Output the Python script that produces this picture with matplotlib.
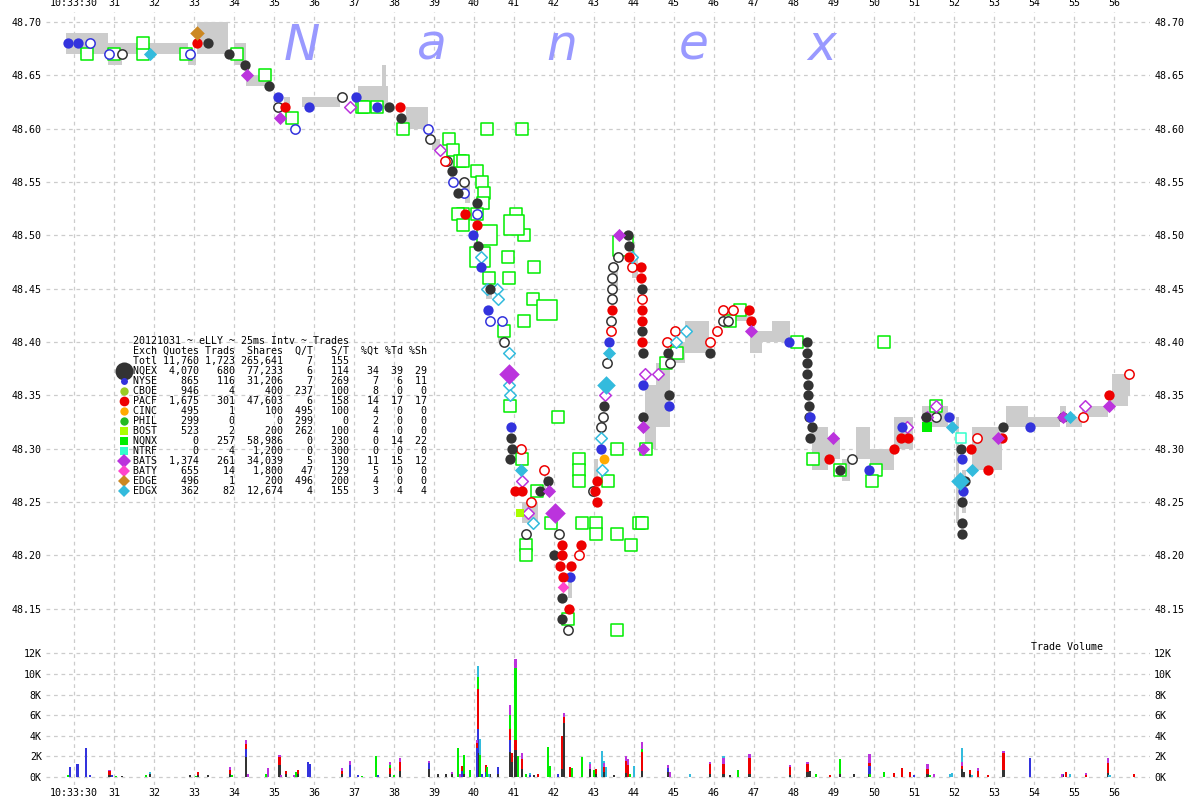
from collections import defaultdict

import matplotlib
matplotlib.use('Agg')
import matplotlib.pyplot as plt

MONO = 'DejaVu Sans Mono'
plt.rcParams['font.family'] = MONO
plt.rcParams['font.size'] = 7.2

# x axis: seconds after 10:33:30
sec_ticks = list(range(0, 27))
sec_labels = ['10:33:30'] + [str(30 + s) for s in range(1, 27)]
price_ticks = [48.15, 48.20, 48.25, 48.30, 48.35, 48.40, 48.45, 48.50,
               48.55, 48.60, 48.65, 48.70]
vol_ticks = [0, 2000, 4000, 6000, 8000, 10000, 12000]

# NBBO band (start, end, bid, ask)
quote_bands = [
    (-0.2, 0.85, 48.67, 48.69), (0.85, 1.2, 48.66, 48.68), (1.2, 2.85, 48.67, 48.68),
    (2.85, 3.05, 48.66, 48.67), (3.08, 3.85, 48.67, 48.70), (4.0, 4.3, 48.66, 48.68),
    (4.3, 4.9, 48.64, 48.65), (5.25, 5.4, 48.62, 48.63), (5.7, 6.65, 48.62, 48.63),
    (7.1, 7.85, 48.62, 48.64), (7.7, 7.8, 48.63, 48.66), (8.3, 8.85, 48.60, 48.62),
    (8.95, 9.15, 48.58, 48.59), (9.4, 9.5, 48.55, 48.57), (9.78, 9.9, 48.53, 48.55),
    (10.3, 10.45, 48.44, 48.46), (10.6, 10.7, 48.40, 48.42), (11.2, 11.6, 48.23, 48.25),
    (11.75, 11.8, 48.26, 48.28), (12.35, 12.45, 48.16, 48.18), (13.0, 13.1, 48.27, 48.29),
    (13.5, 13.6, 48.45, 48.47), (13.95, 14.1, 48.46, 48.48), (14.28, 14.55, 48.30, 48.36),
    (14.55, 14.9, 48.32, 48.38), (14.9, 15.28, 48.38, 48.40), (15.28, 15.88, 48.39, 48.42),
    (16.23, 16.9, 48.42, 48.43), (16.9, 17.2, 48.39, 48.41), (17.2, 17.45, 48.40, 48.41),
    (17.45, 17.9, 48.40, 48.42), (18.45, 18.85, 48.28, 48.32), (18.85, 19.15, 48.29, 48.31),
    (19.2, 19.4, 48.27, 48.29), (19.55, 19.9, 48.29, 48.32), (19.9, 20.5, 48.28, 48.30),
    (20.5, 20.97, 48.30, 48.33), (21.2, 21.85, 48.32, 48.34), (22.05, 22.12, 48.23, 48.33),
    (22.2, 22.3, 48.24, 48.28), (22.45, 23.2, 48.28, 48.32), (23.3, 23.85, 48.32, 48.34),
    (23.85, 24.65, 48.32, 48.33), (24.65, 24.8, 48.33, 48.34), (24.8, 25.2, 48.32, 48.33),
    (25.2, 25.85, 48.33, 48.34), (25.85, 26.35, 48.34, 48.35), (25.95, 26.4, 48.35, 48.37),
]

# trades (seconds, price)
nqex_trades = [
    (3.35, 48.68), (3.88, 48.67), (4.28, 48.66), (4.88, 48.64), (7.88, 48.62), (8.18, 48.61),
    (9.45, 48.56), (9.6, 48.54), (10.08, 48.53), (10.1, 48.49), (10.4, 48.45), (10.93, 48.31),
    (10.95, 48.30), (10.9, 48.29), (11.85, 48.27), (11.65, 48.26), (12.0, 48.20), (12.2, 48.16),
    (12.2, 48.14), (13.25, 48.34), (13.85, 48.50), (13.88, 48.49), (14.2, 48.45), (14.2, 48.41),
    (14.22, 48.39), (14.22, 48.33), (14.85, 48.39), (14.88, 48.35), (15.9, 48.39),
    (18.33, 48.40), (18.33, 48.39), (18.33, 48.38), (18.33, 48.37), (18.35, 48.36),
    (18.35, 48.35), (18.38, 48.34), (18.38, 48.33), (18.45, 48.32), (18.4, 48.31),
    (19.15, 48.28), (21.3, 48.33), (22.18, 48.30), (22.28, 48.27), (22.2, 48.25),
    (22.2, 48.23), (22.2, 48.22), (23.22, 48.32), (24.72, 48.33),
]
nqex_open = [
    (1.2, 48.67), (5.1, 48.62), (6.7, 48.63), (8.9, 48.59), (9.33, 48.57), (9.75, 48.55),
    (10.75, 48.40), (11.3, 48.22), (12.13, 48.22), (12.35, 48.13), (12.98, 48.26),
    (13.18, 48.32), (13.22, 48.33), (13.33, 48.38), (13.6, 48.48), (13.48, 48.47),
    (13.45, 48.46), (13.45, 48.45), (13.45, 48.44), (13.43, 48.42), (14.9, 48.38),
    (16.23, 48.42), (16.35, 48.42), (19.45, 48.29), (21.55, 48.33),
]
nyse_trades = [
    (-0.15, 48.68), (0.1, 48.68), (5.1, 48.63), (5.88, 48.62), (7.05, 48.63), (7.58, 48.62),
    (9.98, 48.50), (10.18, 48.47), (10.35, 48.43), (10.93, 48.32), (12.4, 48.18),
    (13.18, 48.30), (13.38, 48.40), (14.22, 48.36), (14.88, 48.34), (17.88, 48.40),
    (18.4, 48.33), (19.88, 48.28), (20.7, 48.32), (21.88, 48.33), (22.2, 48.29),
    (22.22, 48.26), (23.9, 48.32),
]
nyse_open = [
    (0.4, 48.68), (0.88, 48.67), (2.9, 48.67), (5.53, 48.60), (8.85, 48.60), (9.48, 48.55),
    (9.75, 48.54), (10.08, 48.52), (10.4, 48.42), (10.7, 48.42),
]
pacf_trades = [
    (3.08, 48.68), (5.28, 48.62), (8.15, 48.62), (9.78, 48.52), (10.08, 48.51), (11.03, 48.26),
    (11.2, 48.26), (12.2, 48.21), (12.2, 48.20), (12.15, 48.19), (12.43, 48.19),
    (12.23, 48.18), (12.38, 48.15), (12.68, 48.21), (13.08, 48.25), (13.03, 48.26),
    (13.08, 48.27), (13.88, 48.48), (14.18, 48.47), (14.18, 48.46), (14.2, 48.43),
    (14.2, 48.42), (14.2, 48.40), (13.45, 48.43), (16.88, 48.43), (16.93, 48.42),
    (18.88, 48.29), (20.5, 48.30), (20.68, 48.31), (20.85, 48.31), (22.43, 48.30),
    (22.85, 48.28), (23.2, 48.31), (25.88, 48.35),
]
pacf_open = [
    (9.28, 48.57), (11.18, 48.30), (11.43, 48.25), (11.75, 48.28), (12.63, 48.20),
    (13.43, 48.41), (13.95, 48.47), (14.2, 48.44), (15.03, 48.41), (14.83, 48.40),
    (15.9, 48.40), (16.08, 48.41), (16.23, 48.43), (16.48, 48.43), (22.58, 48.31),
    (25.22, 48.33), (26.38, 48.37),
]
nqnx_open = [
    (0.33, 48.67), (1.0, 48.67), (1.73, 48.67), (1.73, 48.68), (2.8, 48.67), (4.08, 48.67),
    (4.78, 48.65), (5.45, 48.61), (7.2, 48.62), (7.25, 48.62), (7.58, 48.62), (8.22, 48.60),
    (9.38, 48.59), (9.48, 48.58), (9.65, 48.57), (9.73, 48.57), (10.08, 48.56), (10.2, 48.55),
    (10.25, 48.54), (10.23, 48.53), (10.08, 48.52), (9.73, 48.52), (9.6, 48.52),
    (9.73, 48.51), (10.33, 48.50), (11.0, 48.51), (11.05, 48.52), (11.25, 48.50),
    (10.15, 48.48), (10.85, 48.48), (11.5, 48.47), (10.88, 48.46), (10.38, 48.46),
    (11.48, 48.44), (11.83, 48.43), (11.25, 48.42), (10.75, 48.41), (10.33, 48.60),
    (11.2, 48.60), (10.9, 48.34), (11.2, 48.29), (11.3, 48.21), (11.3, 48.20),
    (11.93, 48.23), (11.58, 48.26), (12.35, 48.14), (12.1, 48.33), (12.63, 48.29),
    (12.63, 48.28), (12.63, 48.27), (13.58, 48.30), (13.35, 48.27), (13.58, 48.22),
    (13.93, 48.21), (14.13, 48.23), (14.2, 48.23), (13.05, 48.23), (13.05, 48.22),
    (12.7, 48.23), (13.58, 48.13), (13.73, 48.49), (14.3, 48.30), (15.08, 48.39),
    (14.8, 48.38), (16.65, 48.43), (16.4, 48.42), (18.08, 48.40), (18.48, 48.29),
    (19.15, 48.28), (20.05, 48.28), (19.95, 48.27), (20.25, 48.40), (21.55, 48.34),
]
nqnx_big = [(10.33, 48.50), (11.0, 48.51), (10.15, 48.48), (11.83, 48.43), (13.73, 48.49)]
nqnx_trades = [(21.33, 48.32)]
bats_trades = [
    (4.33, 48.65), (5.15, 48.61), (11.88, 48.26), (13.63, 48.50), (14.22, 48.32),
    (14.22, 48.30), (16.93, 48.41), (18.98, 48.31), (23.1, 48.31), (24.72, 48.33),
    (25.88, 48.34),
]
bats_big = [(10.88, 48.37), (12.03, 48.24)]
bats_open = [
    (6.9, 48.62), (9.15, 48.58), (11.2, 48.27), (11.35, 48.24), (13.28, 48.35),
    (14.28, 48.37), (14.6, 48.37), (20.83, 48.32), (21.33, 48.33), (21.55, 48.34),
    (25.28, 48.34),
]
edgx_trades = [
    (1.9, 48.67), (11.18, 48.28), (13.38, 48.39), (21.95, 48.32),
    (22.45, 48.28), (24.9, 48.33),
]
edgx_big = [(13.3, 48.36), (22.15, 48.27)]
edgx_open = [
    (10.18, 48.48), (10.33, 48.45), (10.58, 48.45), (10.6, 48.44), (10.88, 48.39),
    (10.88, 48.36), (10.9, 48.35), (11.48, 48.23), (13.2, 48.28), (13.18, 48.31),
    (13.95, 48.48), (15.3, 48.41), (15.05, 48.40),
]
edge_trades = [(3.08, 48.69)]
cinc_trades = [(13.25, 48.29)]
baty_trades = [(12.23, 48.17)]
ntrf_open = [(22.18, 48.31)]
bost_trades = [(11.15, 48.24)]

# trade volume (seconds, shares)
nqex_vol = [
    (0.88, 150), (1.2, 100), (1.9, 250), (2.9, 200), (3.1, 200), (3.35, 150), (3.9, 300),
    (4.3, 1900), (5.13, 1200), (5.3, 300), (5.6, 300), (6.7, 300), (7.9, 300), (8.15, 600),
    (8.88, 800), (9.1, 300), (9.3, 250), (9.45, 250), (9.75, 300), (10.1, 2300), (10.4, 300),
    (10.6, 300), (10.9, 2400), (10.95, 1500), (11.03, 2600), (11.2, 800), (11.5, 200),
    (12.2, 800), (12.25, 5200), (12.9, 800), (13.05, 300), (13.25, 500), (13.5, 200),
    (13.8, 400), (14.2, 600), (14.85, 500), (15.9, 300), (16.23, 300), (16.4, 200),
    (16.88, 300), (17.9, 200), (18.33, 500), (18.4, 600), (19.15, 300), (19.5, 300),
    (19.88, 300), (21.33, 300), (22.2, 800), (22.25, 500), (22.4, 300), (23.23, 700),
    (24.72, 200), (25.85, 400),
]
nyse_vol = [
    (-0.1, 1000), (0.08, 1300), (0.3, 2800), (0.4, 150), (0.95, 150), (4.3, 800),
    (5.85, 1500), (5.9, 1300), (6.9, 1200), (7.1, 150), (7.6, 150), (8.88, 600), (9.7, 600),
    (10.08, 2800), (10.1, 2400), (10.2, 300), (10.3, 500), (10.6, 700), (10.9, 1200),
    (11.4, 200), (12.1, 300), (14.85, 400), (19.88, 800), (21.0, 200), (23.9, 1800),
    (24.72, 100),
]
pacf_vol = [
    (0.88, 400), (3.1, 300), (3.9, 400), (4.3, 500), (5.13, 700), (5.3, 300), (5.6, 400),
    (6.7, 300), (7.9, 600), (8.15, 900), (9.7, 500), (10.08, 500), (10.1, 3800), (10.3, 700),
    (10.9, 1100), (10.95, 800), (11.03, 1000), (11.2, 900), (11.6, 300), (12.2, 3200),
    (12.25, 600), (12.4, 1000), (13.05, 500), (13.25, 500), (13.8, 1200), (13.85, 1200),
    (14.2, 1800), (15.9, 1000), (16.23, 1000), (16.88, 1500), (17.9, 800), (18.33, 800),
    (18.9, 200), (19.88, 300), (20.5, 400), (20.7, 900), (20.9, 500), (21.33, 500),
    (22.2, 300), (22.4, 400), (22.6, 600), (22.85, 200), (23.23, 1600), (24.8, 500),
    (25.3, 200), (25.85, 1000), (26.5, 300),
]
nqnx_vol = [
    (-0.15, 200), (1.05, 100), (1.8, 150), (3.05, 100), (3.95, 150), (4.8, 300), (5.55, 500),
    (7.2, 100), (7.55, 2000), (7.9, 300), (8.0, 200), (9.6, 2800), (9.75, 1800), (9.9, 700),
    (10.1, 1200), (10.15, 2100), (10.33, 1000), (10.9, 1300), (11.03, 7000), (11.1, 2000),
    (11.3, 300), (11.85, 2900), (11.9, 1100), (12.45, 900), (12.7, 1900), (13.0, 700),
    (13.9, 300), (14.2, 300), (16.6, 700), (18.55, 300), (19.15, 1400), (19.9, 300),
    (20.25, 500), (21.4, 200),
]
bats_vol = [
    (0.88, 150), (3.9, 300), (4.3, 400), (4.35, 300), (4.85, 900), (5.13, 200), (5.17, 200),
    (5.5, 200), (6.7, 300), (6.9, 400), (7.9, 300), (8.15, 300), (8.88, 200), (9.45, 200),
    (9.65, 300), (10.08, 300), (10.9, 1000), (11.03, 800), (11.2, 600), (12.25, 400),
    (12.9, 500), (13.25, 400), (13.8, 400), (13.85, 500), (14.2, 700), (14.85, 300),
    (14.9, 500), (15.9, 200), (16.23, 500), (16.88, 400), (17.9, 200), (18.33, 200),
    (19.88, 800), (21.33, 500), (21.5, 300), (22.2, 400), (22.6, 300), (23.23, 200),
    (24.7, 300), (25.3, 200), (25.85, 400),
]
edgx_vol = [
    (1.9, 200), (10.1, 1100), (10.15, 1600), (10.38, 300), (11.4, 200), (12.9, 200),
    (13.2, 2500), (13.25, 200), (13.3, 1000), (14.0, 1100), (15.4, 300), (16.23, 200),
    (21.9, 300), (21.95, 400), (22.2, 1300), (22.45, 200), (24.9, 300), (25.88, 200),
]

# exchange summary table
table_title = '20121031 ~ eLLY ~ 25ms Intv ~ Trades'
table_header = ['Exch', 'Quotes', 'Trads', 'Shares', 'Q/T', 'S/T', '%Qt', '%Td', '%Sh']
table_total = ['Totl', '11,760', '1,723', '265,641', '7', '155', '', '', '']
exch_names = ['NQEX', 'NYSE', 'CBOE', 'PACF', 'CINC', 'PHIL', 'BOST', 'NQNX', 'NTRF',
              'BATS', 'BATY', 'EDGE', 'EDGX']
exch_quotes = ['4,070', '865', '946', '1,675', '495', '299', '523', '0', '0', '1,374',
               '655', '496', '362']
exch_trads = ['680', '116', '4', '301', '1', '0', '2', '257', '4', '261', '14', '1', '82']
exch_shares = ['77,233', '31,206', '400', '47,603', '100', '0', '200', '58,986', '1,200',
               '34,039', '1,800', '200', '12,674']
exch_qt = ['6', '7', '237', '6', '495', '299', '262', '0', '0', '5', '47', '496', '4']
exch_st = ['114', '269', '100', '158', '100', '0', '100', '230', '300', '130', '129', '200',
           '155']
exch_pqt = ['34', '7', '8', '14', '4', '2', '4', '0', '0', '11', '5', '4', '3']
exch_ptd = ['39', '6', '0', '17', '0', '0', '0', '14', '0', '15', '0', '0', '4']
exch_psh = ['29', '11', '0', '17', '0', '0', '0', '22', '0', '12', '0', '0', '4']

C_NQEX = '#333333'
C_NYSE = '#3333dd'
C_PACF = '#ee0000'
C_NQNX = '#00ee00'
C_BATS = '#bb33dd'
C_EDGX = '#33bbdd'
legend_style = {
    'NQEX': ('o', C_NQEX, 13), 'NYSE': ('o', C_NYSE, 5), 'CBOE': ('o', '#99cc22', 6),
    'PACF': ('o', C_PACF, 7), 'CINC': ('o', '#ffaa00', 6), 'PHIL': ('o', '#22bb22', 6),
    'BOST': ('s', '#aaff00', 6), 'NQNX': ('s', '#00ee00', 6), 'NTRF': ('s', '#33ffcc', 6),
    'BATS': ('D', C_BATS, 7), 'BATY': ('D', '#ff44cc', 6), 'EDGE': ('D', '#cc8822', 6),
    'EDGX': ('D', C_EDGX, 6),
}

fig = plt.figure(figsize=(12, 8), dpi=100)
L, R = 46 / 1200, 1150 / 1200
ax = fig.add_axes([L, 1 - 650 / 800, R - L, (650 - 12) / 800])
vax = fig.add_axes([L, 1 - 785 / 800, R - L, (785 - 650) / 800])

grid_kw = dict(color='#cccccc', linestyle=(0, (3, 3)), linewidth=0.9)
for a in (ax, vax):
    for s in a.spines.values():
        s.set_visible(False)
    a.set_xlim(-0.7, 26.9)
    a.set_xticks(sec_ticks)
    a.grid(True, **grid_kw)
    a.set_axisbelow(True)
    a.tick_params(length=0, labelsize=7.2, labelleft=True, labelright=True)
    a.tick_params(axis='y', pad=3)

ax.set_ylim(48.1114, 48.7094)
ax.set_yticks(price_ticks)
ax.set_yticklabels(['%.2f' % p for p in price_ticks])
ax.tick_params(axis='x', labelbottom=False, labeltop=True, pad=3)
ax.set_xticklabels(sec_labels)

vax.set_ylim(-774, 12319)
vax.set_yticks(vol_ticks)
vax.set_yticklabels(['%dK' % (v // 1000) for v in vol_ticks])
vax.set_xticklabels(sec_labels)
vax.tick_params(axis='x', pad=2)

# NBBO band
for t0, t1, bid, ask in quote_bands:
    ax.bar(t0, ask - bid, width=t1 - t0, bottom=bid, align='edge', color='#cccccc',
           linewidth=0, zorder=1)


def draw(points, marker, color, size, hollow=False):
    t = [pt[0] for pt in points]
    p = [pt[1] for pt in points]
    if hollow:
        ax.scatter(t, p, s=size, marker=marker, facecolors='white', edgecolors=color,
                   linewidths=1.1, zorder=3)
    else:
        ax.scatter(t, p, s=size, marker=marker, color=color, linewidths=0, zorder=4)


draw(nqnx_open, 's', C_NQNX, 75, hollow=True)
draw(nqnx_big, 's', C_NQNX, 190, hollow=True)
draw(nqnx_trades, 's', C_NQNX, 55)
draw(nqex_open, 'o', C_NQEX, 45, hollow=True)
draw(nqex_trades, 'o', C_NQEX, 55)
draw(nyse_open, 'o', C_NYSE, 45, hollow=True)
draw(nyse_trades, 'o', C_NYSE, 55)
draw(pacf_open, 'o', C_PACF, 45, hollow=True)
draw(pacf_trades, 'o', C_PACF, 55)
draw(bats_open, 'D', C_BATS, 35, hollow=True)
draw(bats_trades, 'D', C_BATS, 45)
draw(bats_big, 'D', C_BATS, 110)
draw(edgx_open, 'D', C_EDGX, 35, hollow=True)
draw(edgx_trades, 'D', C_EDGX, 45)
draw(edgx_big, 'D', C_EDGX, 90)
draw(edge_trades, 'D', '#cc8822', 55)
draw(cinc_trades, 'o', '#ffaa00', 50)
draw(baty_trades, 'D', '#ff44cc', 35)
draw(ntrf_open, 's', '#33ffcc', 55, hollow=True)
draw(bost_trades, 's', '#aaff00', 35)

# stacked trade volume
stack = defaultdict(float)
for vol, color in [(nqex_vol, C_NQEX), (nyse_vol, C_NYSE), (pacf_vol, C_PACF),
                   (nqnx_vol, C_NQNX), (bats_vol, C_BATS), (edgx_vol, C_EDGX)]:
    t = [v[0] for v in vol]
    sh = [v[1] for v in vol]
    bottoms = [stack[round(x, 2)] for x in t]
    vax.bar(t, sh, width=0.065, bottom=bottoms, color=color, linewidth=0, zorder=2)
    for x, s in zip(t, sh):
        stack[round(x, 2)] += s

fig.text(1103 / 1200, 1 - 647 / 800, 'Trade Volume', ha='right', va='center', fontsize=7.2)

# Nanex watermark
for ch, px in zip('Nanex', [302, 432, 562, 694, 822]):
    fig.text(px / 1200, 1 - 60 / 800, ch, fontsize=35, style='italic', color='#9999ff',
             family='DejaVu Sans', ha='center', va='baseline', zorder=0)

# summary table
fmt = '{:<4}{:>7}{:>6}{:>8}{:>5}{:>6}{:>5}{:>4}{:>4}'
rows = [table_header, table_total]
for i in range(len(exch_names)):
    rows.append([exch_names[i], exch_quotes[i], exch_trads[i], exch_shares[i], exch_qt[i],
                 exch_st[i], exch_pqt[i], exch_ptd[i], exch_psh[i]])
fig.text(133 / 1200, 1 - 341 / 800, table_title, ha='left', va='center', fontsize=7.2)
for k, row in enumerate(rows):
    y = 1 - (351 + 10 * k) / 800
    fig.text(133 / 1200, y, fmt.format(*row), ha='left', va='center', fontsize=7.2)
    if row[0] in legend_style:
        m, c, ms = legend_style[row[0]]
        ax.plot([124 / 1200], [y], marker=m, color=c, markersize=ms, markeredgewidth=0,
                transform=fig.transFigure, clip_on=False, zorder=5)

fig.savefig('out.png', dpi=100, facecolor='white')
